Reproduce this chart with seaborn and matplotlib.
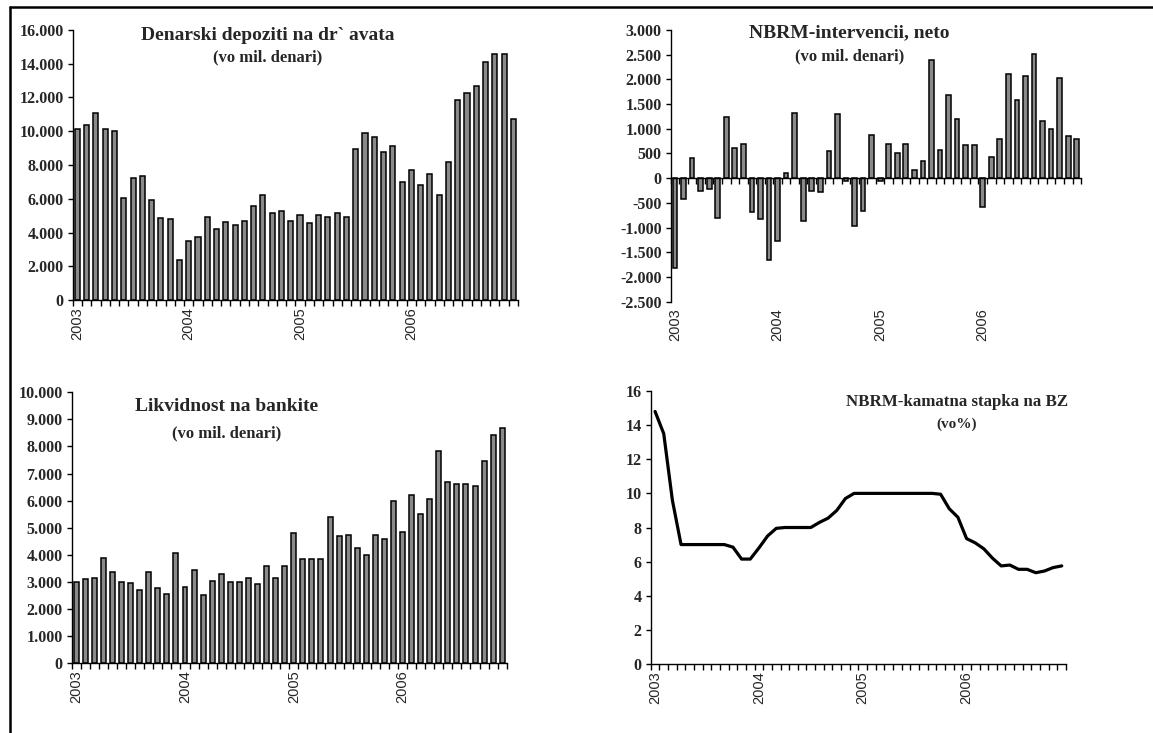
import pandas as pd
import matplotlib.pyplot as plt
import seaborn as sns
import numpy as np
from matplotlib.lines import Line2D
from matplotlib.ticker import FuncFormatter, FixedLocator

# 1. DATA (monthly, Jan 2003 - Dec 2006)
months = pd.date_range("2003-01-01", periods=48, freq="MS").strftime("%Y-%m").tolist()
year_labels = ["2003", "2004", "2005", "2006"]

deposits = [10150, 10350, 11100, 10150, 10000, 6050, 7250, 7350, 5900, 4850, 4800, 2350,
            3500, 3750, 4900, 4200, 4600, 4450, 4700, 5600, 6250, 5150, 5300, 4700,
            5050, 4550, 5050, 4900, 5150, 4900, 8950, 9900, 9650, 8750, 9100, 7000,
            7700, 6800, 7450, 6200, 8150, 11850, 12250, 12700, 14100, 14550, 14600, 10750]

interventions = [-1820, -420, 400, -250, -210, -800, 1230, 610, 700, -690, -830, -1660,
                 -1280, 100, 1320, -860, -250, -270, 550, 1290, -60, -970, -660, 880,
                 -50, 700, 500, 700, 160, 340, 2400, 580, 1680, 1200, 670, 670,
                 -590, 430, 790, 2100, 1590, 2070, 2520, 1150, 1000, 2030, 850, 790]

liquidity = [3000, 3100, 3150, 3900, 3380, 3000, 2950, 2720, 3380, 2770, 2560, 4080,
             2830, 3430, 2510, 3040, 3310, 3000, 3000, 3160, 2940, 3600, 3160, 3600,
             4800, 3860, 3860, 3860, 5400, 4700, 4730, 4250, 3980, 4740, 4580, 6000,
             4850, 6220, 5520, 6060, 7850, 6700, 6600, 6600, 6550, 7470, 8430, 8700]

rate = [14.8, 13.5, 9.6, 7.0, 7.0, 7.0, 7.0, 7.0, 7.0, 6.85, 6.15, 6.15,
        6.8, 7.5, 7.95, 8.0, 8.0, 8.0, 8.0, 8.3, 8.55, 9.0, 9.7, 10.0,
        10.0, 10.0, 10.0, 10.0, 10.0, 10.0, 10.0, 10.0, 10.0, 9.95, 9.1, 8.6,
        7.35, 7.1, 6.75, 6.2, 5.75, 5.8, 5.55, 5.55, 5.35, 5.45, 5.65, 5.75]

# 2. AESTHETICS
BAR_GRAY = "#8a8a8a"
sns.set_style("white")
plt.rcParams["font.family"] = ["Liberation Serif", "DejaVu Serif"]

fig = plt.figure(figsize=(11.53, 7.33), dpi=100)
ax1 = fig.add_axes([0.0631, 0.5907, 0.3862, 0.3684])
ax2 = fig.add_axes([0.5817, 0.5884, 0.3559, 0.3707])
ax3 = fig.add_axes([0.0622, 0.0951, 0.3773, 0.3697])
ax4 = fig.add_axes([0.5644, 0.0941, 0.3602, 0.3725])

dot_fmt = FuncFormatter(lambda v, p: f"{v:,.0f}".replace(",", "."))
year_pos = [months.index(f"{y}-01") for y in year_labels]
bounds = np.arange(-0.5, len(months), 1.0)


def style_axis(ax, ylim, ystep, fmt, label_axis=None):
    ax.set_xlim(-0.5, len(months) - 0.5)
    ax.set_ylim(*ylim)
    ax.set_yticks(np.arange(ylim[0], ylim[1] + ystep / 2, ystep))
    ax.yaxis.set_major_formatter(fmt)
    for s in ["top", "right"]:
        ax.spines[s].set_visible(False)
    for s in ["left", "bottom"]:
        ax.spines[s].set_color("black")
        ax.spines[s].set_linewidth(1.0)
    ax.tick_params(axis="y", direction="out", length=3.5, width=1, color="black",
                   left=True, labelsize=11.5, pad=3)
    for lab in ax.get_yticklabels():
        lab.set_fontweight("bold")
    ax.xaxis.set_minor_locator(FixedLocator(bounds))
    ax.tick_params(axis="x", which="minor", direction="out", length=4, width=1,
                   color="black", bottom=True)
    lx = label_axis if label_axis is not None else ax
    lx.set_xticks(year_pos)
    lx.set_xticklabels(year_labels, rotation=90, family="Liberation Sans", fontsize=10.5)
    lx.tick_params(axis="x", which="major", length=0, pad=5)
    ax.set_xlabel("")
    ax.set_ylabel("")


def titles(ax, x, y1, y2, t1, t2, size1=14, size2=12, weight="bold"):
    ax.text(x, y1, t1, transform=ax.transAxes, ha="center", va="center",
            fontsize=size1, fontweight=weight)
    ax.text(x, y2, t2, transform=ax.transAxes, ha="center", va="center",
            fontsize=size2, fontweight=weight)


# CHART 1: deposits of the state
sns.barplot(x=months, y=deposits, color=BAR_GRAY, saturation=1, width=0.55,
            edgecolor="black", linewidth=1.1, ax=ax1)
style_axis(ax1, (0, 16000), 2000, dot_fmt)
titles(ax1, 0.438, 0.981, 0.90, "Denarski depoziti na dr` avata", "(vo mil. denari)")

# CHART 2: NBRM interventions (axis line at zero, labels at bottom)
sns.barplot(x=months, y=interventions, color=BAR_GRAY, saturation=1, width=0.55,
            edgecolor="black", linewidth=1.1, ax=ax2)
ax2.spines["bottom"].set_position(("data", 0))
sec = ax2.secondary_xaxis("bottom")
sec.spines["bottom"].set_visible(False)
style_axis(ax2, (-2500, 3000), 500, dot_fmt, label_axis=sec)
ax2.set_xticks([])
ax2.xaxis.set_minor_locator(FixedLocator(bounds))
titles(ax2, 0.435, 0.989, 0.902, "NBRM-intervencii, neto", "(vo mil. denari)")

# CHART 3: bank liquidity
sns.barplot(x=months, y=liquidity, color=BAR_GRAY, saturation=1, width=0.55,
            edgecolor="black", linewidth=1.1, ax=ax3)
style_axis(ax3, (0, 10000), 1000, dot_fmt)
titles(ax3, 0.355, 0.947, 0.85, "Likvidnost na bankite", "(vo mil. denari)")

# CHART 4: NBRM rate on CB bills
sns.lineplot(x=np.arange(len(months)), y=rate, color="black", linewidth=2.3, ax=ax4)
style_axis(ax4, (0, 16), 2, FuncFormatter(lambda v, p: f"{v:.0f}"))
titles(ax4, 0.7375, 0.961, 0.879, "NBRM-kamatna stapka na BZ", "(vo%)",
       size1=12.2, size2=11)

# page frame (left and top border)
fig.add_artist(Line2D([0.0087, 0.0087], [0.0, 0.9905], color="black", linewidth=1.8))
fig.add_artist(Line2D([0.0087, 1.0], [0.9905, 0.9905], color="black", linewidth=1.8))

fig.savefig("out.png", dpi=100)
